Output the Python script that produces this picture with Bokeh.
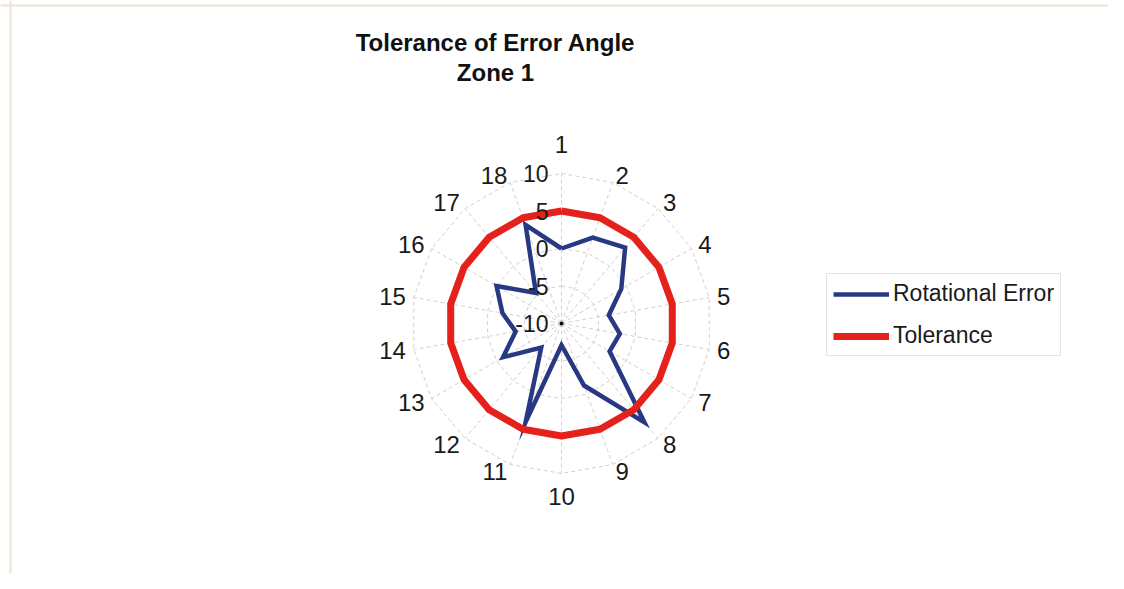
import numpy as np
from bokeh.plotting import figure
from bokeh.models import Range1d, Legend, LegendItem, Span
from bokeh.embed import file_html
from bokeh.resources import INLINE
from bokeh.core.properties import value

# ---------------- data ----------------
categories = [str(i) for i in range(1, 19)]
rotational_error = [0.0, 2.2, 3.2, -0.8, -3.6, -2.1, -2.6, 7.2, -1.2,
                    -7.1, 4.0, -5.8, -1.0, -3.8, -2.0, 0.0, -4.7, 4.0]
tolerance = [5, 5, 5, 5, 5, 5, 5, 5, 5, 5, 5, 5, 5, 5, 5, 5, 5, 5]
radial_ticks = [-10, -5, 0, 5, 10]
series_names = ["Rotational Error", "Tolerance"]
title_lines = ["Tolerance of Error Angle", "Zone 1"]

# ---------------- layout ----------------
W, H = 1108, 573
CX, CY = 561, 323          # radar centre, px from left / top of the figure
R_OUT = 150                # radius of outermost ring in px
VMIN, VMAX = radial_ticks[0], radial_ticks[-1]
FONT = "Liberation Sans"

p = figure(width=W, height=H, output_backend="svg", toolbar_location=None,
           x_range=Range1d(-CX, W - CX), y_range=Range1d(-(H - CY), CY),
           x_axis_location=None, y_axis_location=None, min_border=0,
           background_fill_color="white", border_fill_color="white",
           outline_line_color=None)
p.grid.visible = False

# faint chart-area border (top and left edges only, as in the scan)
p.add_layout(Span(location=CY - 5, dimension="width",
                  line_color="#ebe4d2", line_width=2))
p.add_layout(Span(location=10 - CX, dimension="height",
                  line_color="#ebe4d2", line_width=2))

n = len(categories)
theta = np.arange(n) * 2 * np.pi / n


def radius(v):
    return (np.asarray(v, dtype=float) - VMIN) / (VMAX - VMIN) * R_OUT


def polar(vals, close=True):
    r = radius(vals)
    xs = r * np.sin(theta)
    ys = r * np.cos(theta)
    if close:
        xs = np.append(xs, xs[0])
        ys = np.append(ys, ys[0])
    return xs, ys


grid_col = "#d6cece"
# rings
for t in radial_ticks[1:]:
    gx, gy = polar([t] * n)
    p.line(gx, gy, line_color=grid_col, line_width=1, line_dash="4 3")
# spokes
ex, ey = polar([VMAX] * n, close=False)
p.segment(x0=np.zeros(n), y0=np.zeros(n), x1=ex, y1=ey,
          line_color=grid_col, line_width=1, line_dash="4 3")

# series
bx, by = polar(rotational_error)
blue = p.line(bx, by, line_color="#283984", line_width=4.5, line_join="miter")
rx, ry = polar(tolerance)
red = p.line(rx, ry, line_color="#e5211c", line_width=7, line_join="round")

p.scatter([0], [0], size=3, color="black")

# category labels: anchored just outside the outer ring
lab_style = dict(text_font=value(FONT), text_font_size="24px",
                 text_color="#1a1a1a")
R_LAB = R_OUT + 8
sin_t = np.round(np.sin(theta), 6)
cats = np.array(categories)
groups = [
    (sin_t > 0, "left", "middle", R_LAB),
    (sin_t < 0, "right", "middle", R_LAB),
    ((sin_t == 0) & (np.cos(theta) > 0), "center", "bottom", R_LAB + 13),
    ((sin_t == 0) & (np.cos(theta) < 0), "center", "top", R_LAB + 6),
]
for mask, align, base, rr in groups:
    p.text(x=rr * np.sin(theta[mask]), y=rr * np.cos(theta[mask]),
           text=list(cats[mask]), text_align=align, text_baseline=base,
           **lab_style)

# radial tick labels along first spoke
p.text(x=[-13] * len(radial_ticks), y=radius(radial_ticks),
       text=[str(t) for t in radial_ticks],
       text_font=value(FONT), text_font_size="23px", text_color="#1a1a1a",
       text_align="right", text_baseline="middle")

# title
p.text(x=[-66, -66], y=[CY - 42, CY - 72], text=title_lines,
       text_font=value(FONT), text_font_size="24px", text_font_style="bold",
       text_color="#111111", text_align="center", text_baseline="middle")

legend = Legend(items=[LegendItem(label=series_names[0], renderers=[blue]),
                       LegendItem(label=series_names[1], renderers=[red])],
                location=(826, H - 356), orientation="vertical",
                glyph_width=56, glyph_height=24, label_standoff=4,
                padding=6, spacing=15, margin=0,
                label_text_font=FONT, label_text_font_size="23px",
                label_text_color="#1a1a1a",
                border_line_color="#c8c8c8", border_line_width=1,
                background_fill_color="white", background_fill_alpha=1)
p.add_layout(legend)

open("out.html", "w").write(file_html(p, INLINE))
